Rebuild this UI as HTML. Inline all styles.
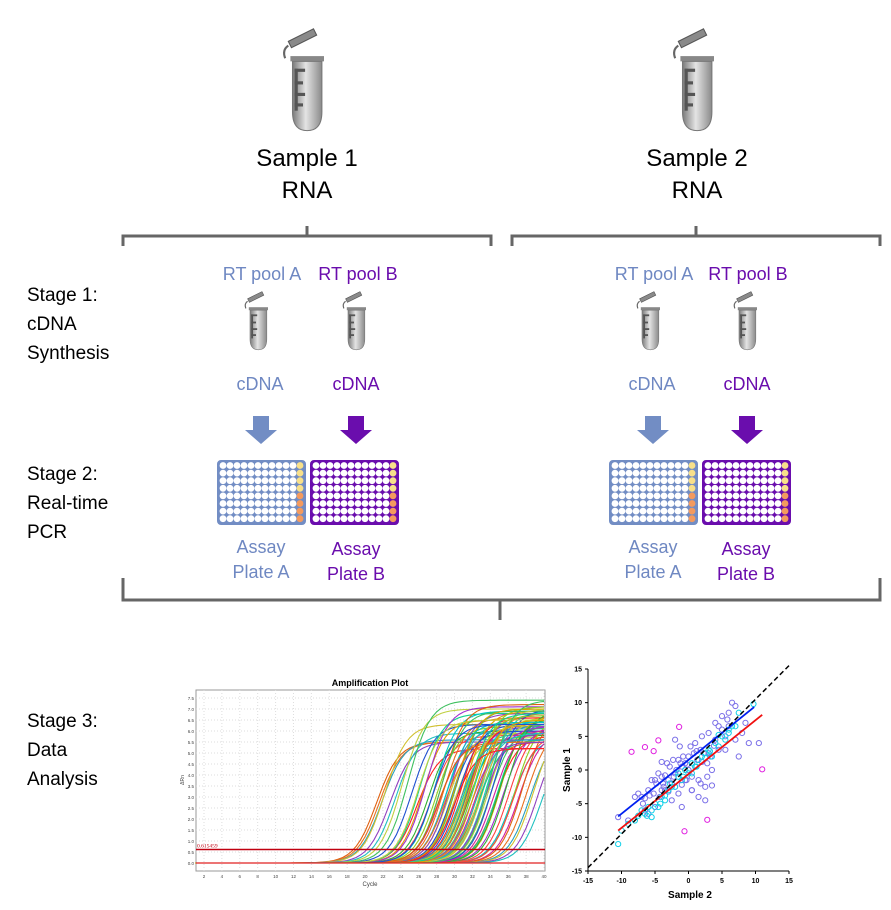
<!DOCTYPE html>
<html><head><meta charset="utf-8">
<style>
body{margin:0;background:#fff;width:891px;height:910px;position:relative;overflow:hidden;font-family:"Liberation Sans",sans-serif}
.t{position:absolute;white-space:nowrap;transform:translateX(-50%);text-align:center}
.st{position:absolute;left:27px;font-size:19px;line-height:29px;color:#000}
.blue{color:#6f88c2}.pur{color:#6a0dad}
</style></head><body>
<svg width="891" height="910" style="position:absolute;left:0;top:0">
<defs>
<linearGradient id="tg" x1="0" x2="1"><stop offset="0" stop-color="#7a7a7a"/><stop offset=".45" stop-color="#e4e4e4"/><stop offset="1" stop-color="#8a8a8a"/></linearGradient>
<g id="tube">
<path d="M-14 -52 l24 -12 l3 6 l-24 12z" fill="#8a8a8a" stroke="#555" stroke-width="1"/>
<path d="M-14 -48 q-6 4 -3 12" fill="none" stroke="#666" stroke-width="2"/>
<rect x="-12" y="-38" width="32" height="5" fill="#888"/>
<path d="M-10 -33 h28 v48 q0 18 -14 18 q-14 0 -14 -18z" fill="url(#tg)" stroke="#777"/>
<g fill="#555"><rect x="-8" y="-26" width="10" height="3"/><rect x="-8" y="-26" width="3" height="40"/><rect x="-8" y="-14" width="8" height="3"/><rect x="-8" y="-3" width="10" height="3"/><rect x="-8" y="7" width="8" height="3"/></g>
</g>
</defs>
<g transform="translate(303 96) scale(1.05)"><use href="#tube"/></g>
<g transform="translate(693 96) scale(1.05)"><use href="#tube"/></g>
<g transform="translate(256 330) scale(0.6)"><use href="#tube"/></g>
<g transform="translate(354 330) scale(0.6)"><use href="#tube"/></g>
<g transform="translate(648 330) scale(0.6)"><use href="#tube"/></g>
<g transform="translate(745 330) scale(0.6)"><use href="#tube"/></g>
<g fill="none" stroke="#666" stroke-width="3">
<path d="M123 246 V236 H491 V246 M307 236 V226"/>
<path d="M512 246 V236 H880 V246 M696 236 V226"/>
<path d="M123 578 V600 H880 V578 M500 600 V620"/>
</g>
<g id="arrows"></g>
<g id="plates"></g>
<g id="amp"></g>
<g id="scat"></g>
</svg>
<div class="t" style="left:307px;top:143px;font-size:24px;line-height:32px">Sample 1<br>RNA</div>
<div class="t" style="left:697px;top:143px;font-size:24px;line-height:32px">Sample 2<br>RNA</div>
<div class="st" style="top:281px">Stage 1:<br>cDNA<br>Synthesis</div>
<div class="st" style="top:460px">Stage 2:<br>Real-time<br>PCR</div>
<div class="st" style="top:707px">Stage 3:<br>Data<br>Analysis</div>
<div class="t blue" style="left:262px;top:264px;font-size:18px">RT pool A</div>
<div class="t pur" style="left:358px;top:264px;font-size:18px">RT pool B</div>
<div class="t blue" style="left:654px;top:264px;font-size:18px">RT pool A</div>
<div class="t pur" style="left:748px;top:264px;font-size:18px">RT pool B</div>
<div class="t blue" style="left:260px;top:374px;font-size:18px">cDNA</div>
<div class="t pur" style="left:356px;top:374px;font-size:18px">cDNA</div>
<div class="t blue" style="left:652px;top:374px;font-size:18px">cDNA</div>
<div class="t pur" style="left:747px;top:374px;font-size:18px">cDNA</div>
<div class="t blue" style="left:261px;top:535px;font-size:18px;line-height:25px">Assay<br>Plate A</div>
<div class="t pur" style="left:356px;top:537px;font-size:18px;line-height:25px">Assay<br>Plate B</div>
<div class="t blue" style="left:653px;top:535px;font-size:18px;line-height:25px">Assay<br>Plate A</div>
<div class="t pur" style="left:746px;top:537px;font-size:18px;line-height:25px">Assay<br>Plate B</div>
<script>
const NS='http://www.w3.org/2000/svg';
function mk(p,t,a){const e=document.createElementNS(NS,t);for(const k in a)e.setAttribute(k,a[k]);p.appendChild(e);return e;}
const A=document.getElementById('arrows'),P=document.getElementById('plates');
[[261,'#728dc4'],[356,'#6a0dad'],[653,'#728dc4'],[747,'#6a0dad']].forEach(([x,c])=>{
 const e=mk(A,'path',{d:`M${x-8} 416 h16 v14 h8 l-16 14 l-16 -14 h8z`,fill:c});
 
 
});
[[218,'#728dc4'],[311,'#6a0dad'],[610,'#728dc4'],[703,'#6a0dad']].forEach(([x,c])=>{
 const g=mk(P,'g',{});
 
 
 mk(g,'rect',{x:x,y:461,width:87,height:63,rx:3,fill:c,stroke:c,'stroke-width':2});
 for(let r=0;r<8;r++)for(let k=0;k<12;k++){
  let f='#fff';if(k==11)f=r<4?'#f8e08a':'#f49a5e';
  mk(g,'circle',{cx:x+5+k*7.0,cy:465.5+r*7.6,r:3.4,fill:f});
 }
});
</script>
<script>
const ampCt=[19.5,19.8,20.1,20.4,21,21.6,22.3,23,23.4,24,24.3,24.7,25,25.3,25.6,26,26.2,26.5,26.8,27,27.2,27.5,27.7,28,28.2,28.4,28.6,28.9,29.1,29.3,29.5,29.8,30,30.2,30.4,30.6,30.8,31,31.2,31.4,31.6,31.8,32,32.2,32.5,32.8,33,33.3,33.6,34,34.3,34.6,35,35.4,35.8,36.2,36.6,37,37.5,38,24.1,26.7,27.9,29.6,30.9,28.3,31.7,33.2,34.8,27.3,29.9,32.6,26.4,27.1,28.8,29.4,30.1,30.7,31.3,32.1,25.8,28.1,29.7,30.5];
const ampMax=[5.5,5.5,5.6,6.3,5.5,5.9,7.0,7.4,6.3,5.2,6.8,6.5,7.1,6.0,5.8,6.9,6.2,5.6,7.2,6.6,6.1,5.9,6.8,6.4,5.7,7.0,6.3,6.6,5.9,6.9,6.2,5.8,6.7,6.4,7.1,6.0,5.5,6.8,6.3,6.6,5.9,6.9,6.5,6.2,7.0,5.8,6.4,6.7,6.1,6.9,6.3,5.7,6.6,6.0,6.8,6.2,5.9,6.4,6.1,5.8,6.5,6.9,6.0,6.3,5.6,7.0,6.2,6.6,5.9,6.4,6.7,6.1];
const ampColors=['#e06010','#e87020','#2aa0c0','#d0c030','#9040c0','#20c0c0','#c0d040','#40c060','#2050d0','#ff2020','#10d090','#e0a000','#a030d0','#30b030','#ff4040','#00c8c8','#90d020','#d020a0'];
const xTicks=[2,4,6,8,10,12,14,16,18,20,22,24,26,28,30,32,34,36,38,40];
const yTicks=[0,0.5,1,1.5,2,2.5,3,3.5,4,4.5,5,5.5,6,6.5,7,7.5];
const threshold=0.615459;
(function(){
 const g=document.getElementById('amp');
 const L=196,R=545,T=690,B=871;
 const sx=c=>204+(c-2)*(544-204)/38, sy=v=>863-v*22;
 const box=mk(g,'rect',{x:L,y:T,width:R-L,height:B-T,fill:'#fff',stroke:'#999','stroke-width':1});
 
 
 const tt=mk(g,'text',{x:370,y:686,'font-size':9,'font-weight':'bold','text-anchor':'middle','font-family':'Liberation Sans'});tt.textContent='Amplification Plot';
 
 
 xTicks.forEach(c=>{mk(g,'line',{x1:sx(c),x2:sx(c),y1:T,y2:B,stroke:'#ddd','stroke-dasharray':'1 2'});
  const t=mk(g,'text',{x:sx(c),y:B+7,'font-size':4.5,'text-anchor':'middle',fill:'#444'});t.textContent=c;
  
  });
 yTicks.forEach(v=>{mk(g,'line',{x1:L,x2:R,y1:sy(v),y2:sy(v),stroke:'#ddd','stroke-dasharray':'1 2'});
  const t=mk(g,'text',{x:L-2,y:sy(v)+2,'font-size':4.5,'text-anchor':'end',fill:'#444'});t.textContent=v.toFixed(1);
  
  });
 const xl=mk(g,'text',{x:370,y:886,'font-size':6,'text-anchor':'middle',fill:'#444'});xl.textContent='Cycle';
 
 
 const yl=mk(g,'text',{x:184,y:780,'font-size':5,'text-anchor':'middle',fill:'#444',transform:'rotate(-90 184 780)'});yl.textContent='ΔRn';
 
 
 ampCt.forEach((ct,i)=>{
  let d='';const m=ampMax[i%ampMax.length];
  for(let c=1;c<=40;c+=0.5){const v=m/(1+Math.exp(-(c-ct-1.8)/1.25));d+=(d?'L':'M')+sx(c).toFixed(1)+' '+sy(v).toFixed(1);}
  const p=mk(g,'path',{d:d,fill:'none',stroke:ampColors[i%ampColors.length],'stroke-width':1.1});
  
  
 });
 const th=mk(g,'line',{x1:L,x2:R,y1:sy(threshold),y2:sy(threshold),stroke:'#c00010','stroke-width':1.5});
 
 
 const tl=mk(g,'text',{x:L+1,y:sy(threshold)-2,'font-size':5.5,fill:'#c00010','font-family':'Liberation Serif'});tl.textContent=threshold;
 
 
 mk(g,'line',{x1:L,x2:R,y1:sy(0),y2:sy(0),stroke:'#e02020','stroke-width':1.2});
})();
</script>
<script>
const purX=[-10.5,-9,-8,-7.5,-7,-6.8,-6.5,-6,-6,-5.5,-5.2,-5,-4.8,-4.5,-4.3,-4,-4,-3.7,-3.5,-3.2,-3,-3,-2.8,-2.5,-2.3,-2,-2,-1.8,-1.5,-1.3,-1,-1,-0.8,-0.5,-0.3,0,0,0.3,0.5,0.8,1,1,1.3,1.5,1.8,2,2,2.3,2.5,2.8,3,3,3.3,3.5,4,4,4.5,5,5,5.5,6,6,6.5,7,7,7.5,8,8.5,9,10.5,-5,-3.5,-2.5,-1.5,0.5,1.5,2.5,3.5,4.5,5.5,-6.5,-1,-4,-0.5,0.5,1.8,2.8,-2,-3.8,-2.2,-0.2,1.2,3.8,5.8,-5.8,-1.2];
const purY=[-7,-7.5,-4,-3.5,-4,-5,-6,-3,-6.5,-1.5,-3.5,-5.5,-2,-0.5,-4,-1,-3,-2.5,-0.8,1,-1.5,-3.2,0.5,-2,1.5,-0.5,-2.5,0,1.5,3.5,0.5,-2.2,2,1,-1.5,2,0,3.5,-1,2.5,4,0.5,1.5,-1.5,3,5,1.2,2.5,-4.5,1,5.5,2.5,2,0,7,4.5,6.5,8,6,3,8.5,6.5,10,9.5,4.5,2,5.5,7,4,4,-1.5,-3,-4.5,-3.5,-3,-4,-2.5,-2.3,3,5,-4.2,-5.5,1.2,-1.5,-3,-2,-1,4.5,-2,-1,0.8,2.8,3.6,7.5,-3.8,1];
const cyX=[-10.5,-10,-9,-8,-7.5,-7,-6.5,-6,-5.5,-5,-4.5,-4,-3.5,-3,-2.5,-2,-1.5,-1,-0.5,0,0.5,1,1.5,2,2.5,3,3.5,4,4.5,5,5.5,6,6.5,7,7.5,9.7,-5.5,-3.5,-1.5,0.5,2.5,4.5,6,-6.2,-4.2,-2.8,-0.8,1.2,3.2];
const cyY=[-11,-9,-8,-7.5,-6.8,-6,-6.5,-5.5,-6,-5,-5.5,-4,-4.5,-3,-2.5,-2.5,-1,-1.5,0,-0.5,1,0.5,1.5,2,2.5,3,2,4,3.5,5,4.5,6,6.5,6.5,8.5,9.8,-7,-3.8,-0.5,-0.5,1.8,5.2,5.5,-6.8,-5,-2,-1,0.5,2.8];
const magX=[-8.5,-6.5,-5.2,-4.5,-1.4,-0.6,2.8,11];
const magY=[2.7,3.4,2.8,4.4,6.4,-9.1,-7.4,0.1];
const fitSlope=[0.8,0.8,1];
const fitIntercept=[1.5,-0.6,0.5];
const fitRange=[[-10.5,9.8],[-10.5,11],[-15,15]];
const scTicks=[-15,-10,-5,0,5,10,15];
(function(){
 const g=document.getElementById('scat');
 const sx=v=>588+(v+15)*(201/30), sy=v=>871-(v+15)*(202/30);
 mk(g,'path',{d:`M588 669 V871 H789`,fill:'none',stroke:'#000','stroke-width':1});
 scTicks.forEach(v=>{
  mk(g,'line',{x1:sx(v),x2:sx(v),y1:871,y2:874,stroke:'#000'});
  mk(g,'line',{x1:585,x2:588,y1:sy(v),y2:sy(v),stroke:'#000'});
  const a=mk(g,'text',{x:sx(v),y:883,'font-size':7,'font-weight':'bold','text-anchor':'middle'});a.textContent=v;
  
  
  const b=mk(g,'text',{x:582,y:sy(v)+2.5,'font-size':7,'font-weight':'bold','text-anchor':'end'});b.textContent=v;
  
  
 });
 const xt=mk(g,'text',{x:690,y:898,'font-size':10,'font-weight':'bold','text-anchor':'middle'});xt.textContent='Sample 2';
 
 
 const yt=mk(g,'text',{x:570,y:770,'font-size':10,'font-weight':'bold','text-anchor':'middle',transform:'rotate(-90 570 770)'});yt.textContent='Sample 1';
 
 
 const pts=(xs,ys,c,n)=>xs.forEach((x,i)=>{const e=mk(g,'circle',{cx:sx(x),cy:sy(ys[i]),r:2.6,fill:'none',stroke:c,'stroke-width':1});
  
  });
 pts(purX,purY,'#7b70e8','point-purple');
 pts(cyX,cyY,'#10d0e8','point-cyan');
 pts(magX,magY,'#e020e0','point-magenta');
 const cols=['#0020f0','#f01010','#000'];
 fitSlope.forEach((m,i)=>{const [a,b]=fitRange[i];
  const l=mk(g,'line',{x1:sx(a),y1:sy(m*a+fitIntercept[i]),x2:sx(b),y2:sy(m*b+fitIntercept[i]),stroke:cols[i],'stroke-width':i==2?1.5:1.8,'stroke-dasharray':i==2?'5 3':'none'});
  
  
 });
})();
</script>
</body></html>
